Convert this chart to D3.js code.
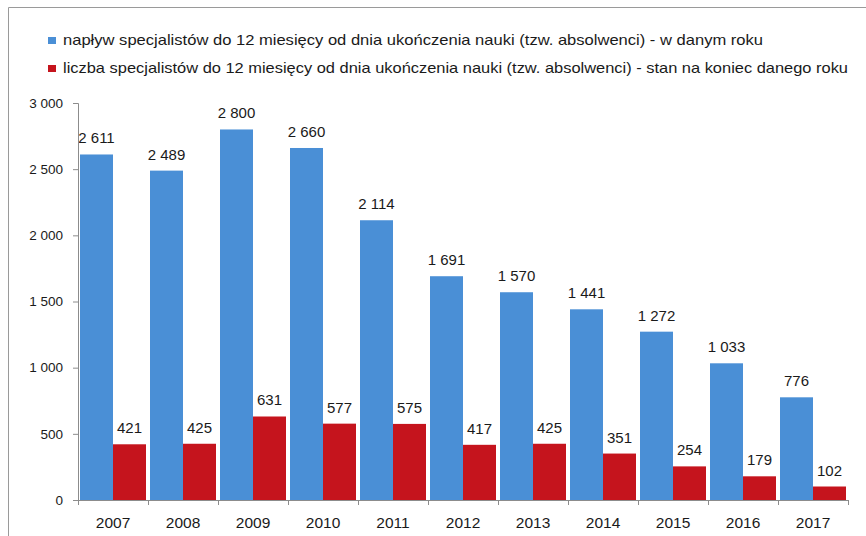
<!DOCTYPE html>
<html>
<head>
<meta charset="utf-8">
<script src="https://cdn.jsdelivr.net/npm/d3@7"></script>
<style>
  body { margin: 0; background: #fff; }
  text { font-family: "Liberation Sans", Arial, sans-serif; fill: #1a1a1a; }
</style>
</head>
<body>
<svg id="chart" width="866" height="536"></svg>
<script>
const years = ["2007", "2008", "2009", "2010", "2011", "2012", "2013", "2014", "2015", "2016", "2017"];
const inflow = [2611, 2489, 2800, 2660, 2114, 1691, 1570, 1441, 1272, 1033, 776];
const endOfYear = [421, 425, 631, 577, 575, 417, 425, 351, 254, 179, 102];
const seriesNames = [
  "napływ specjalistów do 12 miesięcy od dnia ukończenia nauki (tzw. absolwenci) - w danym roku",
  "liczba specjalistów do 12 miesięcy od dnia ukończenia nauki (tzw. absolwenci) - stan na koniec danego roku"
];
const yTicks = [0, 500, 1000, 1500, 2000, 2500, 3000];

const COLORS = ["#4a8fd6", "#c5141d"];
const LEGEND_W = [700, 785];

const svg = d3.select("#chart");

// frame
svg.append("path")
  .attr("d", "M8.5,536 V7.5 H866")
  .attr("fill", "none")
  .attr("stroke", "#9a9a9a")
  .attr("stroke-width", 1);

const mLeft = 78, mRight = 848, mTop = 103, mBottom = 500;

const x = d3.scaleBand().domain(years).range([mLeft, mRight]).paddingInner(0).paddingOuter(0);
const y = d3.scaleLinear().domain([0, 3000]).range([mBottom, mTop]);

const data = years.map((yr, i) => ({ year: yr, vals: [inflow[i], endOfYear[i]] }));

const fmt = (v) => d3.format(",")(v).replace(/,/g, " ");

// bars
const barW = (x.bandwidth() - 4) / 2;
const groups = svg.selectAll("g.grp")
  .data(data)
  .join("g")
  .attr("class", "grp")
  .attr("transform", d => `translate(${x(d.year) + 2},0)`);

groups.selectAll("rect")
  .data(d => d.vals)
  .join("rect")
  .attr("x", (d, i) => i * barW)
  .attr("y", d => y(d))
  .attr("width", barW)
  .attr("height", d => mBottom - y(d))
  .attr("fill", (d, i) => COLORS[i]);

groups.selectAll("text")
  .data(d => d.vals)
  .join("text")
  .attr("x", (d, i) => i * barW + barW / 2)
  .attr("y", d => y(d) - 11)
  .attr("text-anchor", "middle")
  .style("font-size", "15px")
  .text(d => fmt(d));

// y axis
const yAxis = svg.append("g")
  .attr("transform", `translate(${mLeft},0)`)
  .call(d3.axisLeft(y).tickValues(yTicks).tickSize(5).tickPadding(10).tickFormat(fmt));
yAxis.select(".domain").attr("stroke", "#8c8c8c").attr("d", `M-5,${mTop + 0.5}H0.5V${mBottom + 0.5}`);
yAxis.selectAll(".tick line").attr("stroke", "#8c8c8c");
yAxis.selectAll(".tick text")
  .style("font-size", "13.5px")
  .attr("fill", "#222");

// x axis
const xAxis = svg.append("g")
  .attr("transform", `translate(0,${mBottom})`)
  .call(d3.axisBottom(x).tickSize(0).tickPadding(17));
xAxis.select(".domain").attr("stroke", "#8c8c8c");
xAxis.selectAll(".tick text")
  .style("font-size", "15.5px")
  .attr("fill", "#1a1a1a");
svg.append("g")
  .selectAll("line")
  .data(years.concat(["end"]))
  .join("line")
  .attr("x1", (d, i) => mLeft + i * x.step() + 0.5)
  .attr("x2", (d, i) => mLeft + i * x.step() + 0.5)
  .attr("y1", mBottom)
  .attr("y2", mBottom + 5)
  .attr("stroke", "#8c8c8c");

// legend
const legend = svg.append("g");
seriesNames.forEach((name, i) => {
  legend.append("rect")
    .attr("x", 48)
    .attr("y", 37 + i * 28)
    .attr("width", 8)
    .attr("height", 7)
    .attr("fill", COLORS[i]);
  legend.append("text")
    .attr("x", 63)
    .attr("y", 45 + i * 28)
    .attr("textLength", LEGEND_W[i])
    .attr("lengthAdjust", "spacingAndGlyphs")
    .style("font-size", "15px")
    .text(name);
});
</script>
</body>
</html>
